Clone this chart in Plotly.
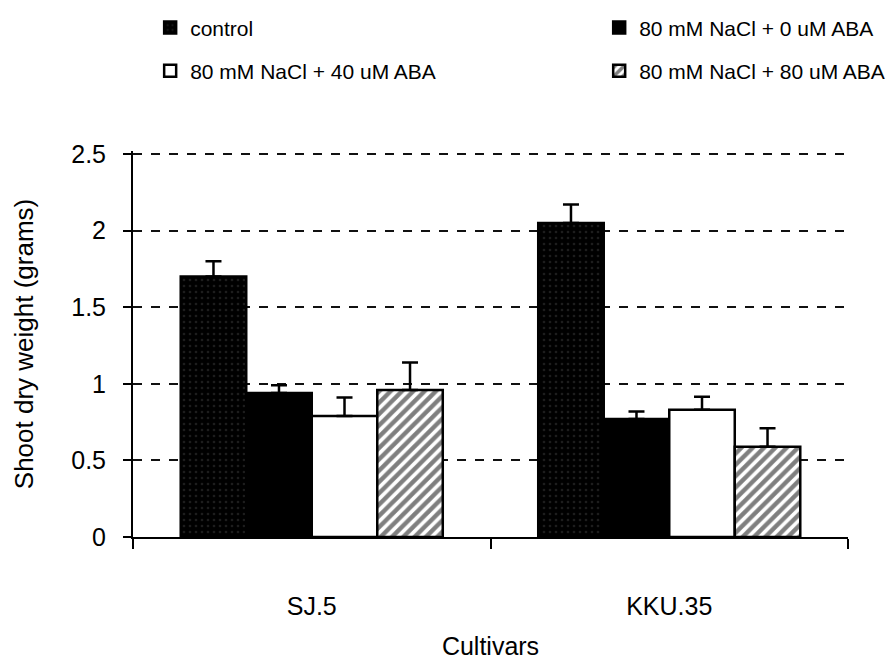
import plotly.graph_objects as go

cultivars = ["SJ.5", "KKU.35"]
series_names = ["control", "80 mM NaCl + 0 uM ABA", "80 mM NaCl + 40 uM ABA", "80 mM NaCl + 80 uM ABA"]
control = [1.70, 2.05]
nacl_0 = [0.94, 0.77]
nacl_40 = [0.79, 0.83]
nacl_80 = [0.96, 0.59]
err_control = [0.10, 0.12]
err_0 = [0.05, 0.05]
err_40 = [0.12, 0.085]
err_80 = [0.18, 0.12]

y_ticks = [0, 0.5, 1, 1.5, 2, 2.5]
y_ticktext = ["0", "0.5", "1", "1.5", "2", "2.5"]

FONT = "Liberation Sans, Arial, sans-serif"

styles = [
    dict(color="black", pattern=dict(shape=".", fgcolor="#3a3a3a", bgcolor="black", size=6, solidity=0.15), legend="legend"),
    dict(color="black", pattern=None, legend="legend2"),
    dict(color="white", pattern=None, legend="legend"),
    dict(color="white", pattern=dict(shape="/", fgcolor="black", bgcolor="white", size=8, solidity=0.55), legend="legend2"),
]
values = [control, nacl_0, nacl_40, nacl_80]
errors = [err_control, err_0, err_40, err_80]

fig = go.Figure()
for i, (name, vals, errs, st) in enumerate(zip(series_names, values, errors, styles)):
    marker = dict(color=st["color"], line=dict(color="black", width=2.5))
    if st["pattern"] is not None:
        marker["pattern"] = st["pattern"]
    fig.add_trace(go.Bar(
        x=cultivars, y=vals, name=name,
        marker=marker,
        legend=st["legend"],
        legendgroup="g%d" % i,
        error_y=dict(type="data", array=errs, arrayminus=[0] * len(errs), symmetric=False,
                     color="black", thickness=2.5, width=8),
    ))

legend_common = dict(
    orientation="v", xanchor="left", yanchor="top",
    font=dict(family=FONT, size=21, color="black"),
    bgcolor="rgba(0,0,0,0)", tracegroupgap=13,
    itemclick=False, itemdoubleclick=False,
)

fig.update_layout(
    width=896, height=660,
    margin=dict(l=133, r=48, t=151, b=123, autoexpand=False),
    paper_bgcolor="white", plot_bgcolor="white",
    barmode="group", bargap=0.267, bargroupgap=0,
    font=dict(family=FONT, size=25, color="black"),
    legend=dict(x=0.024, y=1.372, **legend_common),
    legend2=dict(x=0.652, y=1.372, **legend_common),
    xaxis=dict(
        type="category", automargin=False,
        showline=True, linecolor="black", linewidth=2,
        ticks="outside", tickson="boundaries", ticklen=10, tickwidth=2, tickcolor="black",
        ticklabelstandoff=46,
        tickfont=dict(family=FONT, size=25, color="black"),
        title=dict(text="Cultivars", font=dict(family=FONT, size=25, color="black"), standoff=20),
        showgrid=False,
    ),
    yaxis=dict(
        range=[0, 2.52], automargin=False,
        tickvals=y_ticks, ticktext=y_ticktext,
        showline=True, linecolor="black", linewidth=2,
        ticks="outside", ticklen=8, tickwidth=2, tickcolor="black",
        ticklabelstandoff=12,
        tickfont=dict(family=FONT, size=25, color="black"),
        showgrid=True, gridcolor="#111", gridwidth=1.5, griddash="dash",
        zeroline=False,
        title=dict(text="Shoot dry weight (grams)", font=dict(family=FONT, size=26, color="black"), standoff=30),
    ),
)

fig.write_html("out.html")
